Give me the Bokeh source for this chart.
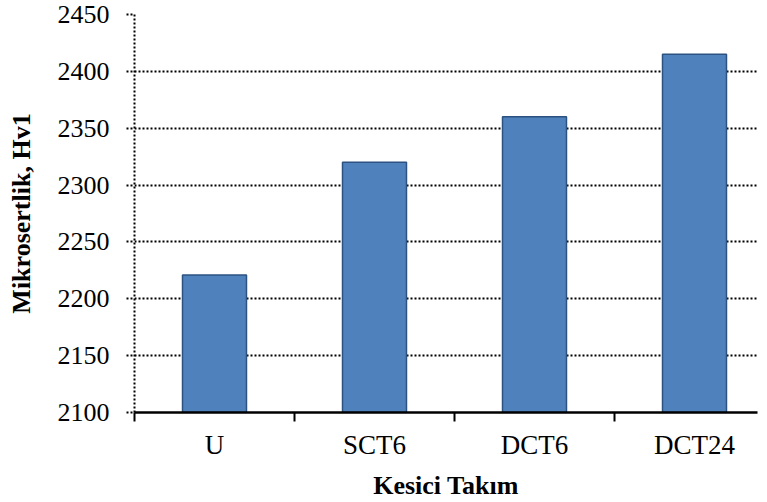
from bokeh.plotting import figure
from bokeh.models import FixedTicker, Range1d, ColumnDataSource
from bokeh.embed import file_html
from bokeh.resources import INLINE

categories = ["U", "SCT6", "DCT6", "DCT24"]
values = [2221, 2320, 2360, 2415]
y_ticks = [2100, 2150, 2200, 2250, 2300, 2350, 2400, 2450]

xpos = [i + 0.5 for i in range(len(categories))]
src = ColumnDataSource(dict(x=xpos, top=values, cat=categories))

p = figure(width=759, height=500, output_backend="svg", toolbar_location=None,
           frame_width=623, frame_height=398,
           min_border_left=134, min_border_top=14, min_border_right=2, min_border_bottom=88,
           x_range=Range1d(0, 623 / 160), y_range=Range1d(2100, 2450))
p.outline_line_color = None
p.background_fill_color = "white"
p.border_fill_color = "white"

p.vbar(x="x", top="top", bottom=2100, width=0.4, source=src,
       fill_color="#4F81BD", line_color="#2C5281", line_width=1.5)

FONT = "Liberation Serif"

# x axis
p.xaxis.ticker = FixedTicker(ticks=xpos, minor_ticks=[0, 1, 2, 3, 4])
p.xaxis.major_label_overrides = {x: c for x, c in zip(xpos, categories)}
p.xaxis.major_tick_out = 0
p.xaxis.major_tick_in = 0
p.xaxis.minor_tick_out = 9
p.xaxis.minor_tick_in = 0
p.xaxis.minor_tick_line_color = "black"
p.xaxis.minor_tick_line_width = 2
p.xaxis.axis_line_color = "black"
p.xaxis.axis_line_width = 2.5
p.xaxis.major_label_text_font = FONT
p.xaxis.major_label_text_font_size = "27px"
p.xaxis.major_label_text_color = "black"
p.xaxis.major_label_standoff = 8
p.xaxis.axis_label = "Kesici Takım"
p.xaxis.axis_label_text_font = FONT
p.xaxis.axis_label_text_font_size = "26px"
p.xaxis.axis_label_text_font_style = "bold"
p.xaxis.axis_label_text_color = "black"
p.xaxis.axis_label_standoff = 8

# y axis
p.yaxis.ticker = FixedTicker(ticks=y_ticks)
p.yaxis.minor_tick_line_color = None
p.yaxis.major_tick_out = 8
p.yaxis.major_tick_in = 0
p.yaxis.major_tick_line_color = "black"
p.yaxis.major_tick_line_width = 2
p.yaxis.major_tick_line_dash = "2 2"
p.yaxis.axis_line_color = "black"
p.yaxis.axis_line_width = 2
p.yaxis.axis_line_dash = "2 2"
p.yaxis.major_label_text_font = FONT
p.yaxis.major_label_text_font_size = "26px"
p.yaxis.major_label_text_color = "black"
p.yaxis.major_label_standoff = 17
p.yaxis.axis_label = "Mikrosertlik, Hv1"
p.yaxis.axis_label_text_font = FONT
p.yaxis.axis_label_text_font_size = "26px"
p.yaxis.axis_label_text_font_style = "bold"
p.yaxis.axis_label_text_color = "black"
p.yaxis.axis_label_standoff = 19

p.xgrid.grid_line_color = None
p.ygrid.ticker = FixedTicker(ticks=y_ticks)
p.ygrid.grid_line_color = "black"
p.ygrid.grid_line_width = 2
p.ygrid.grid_line_dash = "2 2"
p.ygrid.level = "underlay"

open("out.html", "w").write(file_html(p, INLINE))
